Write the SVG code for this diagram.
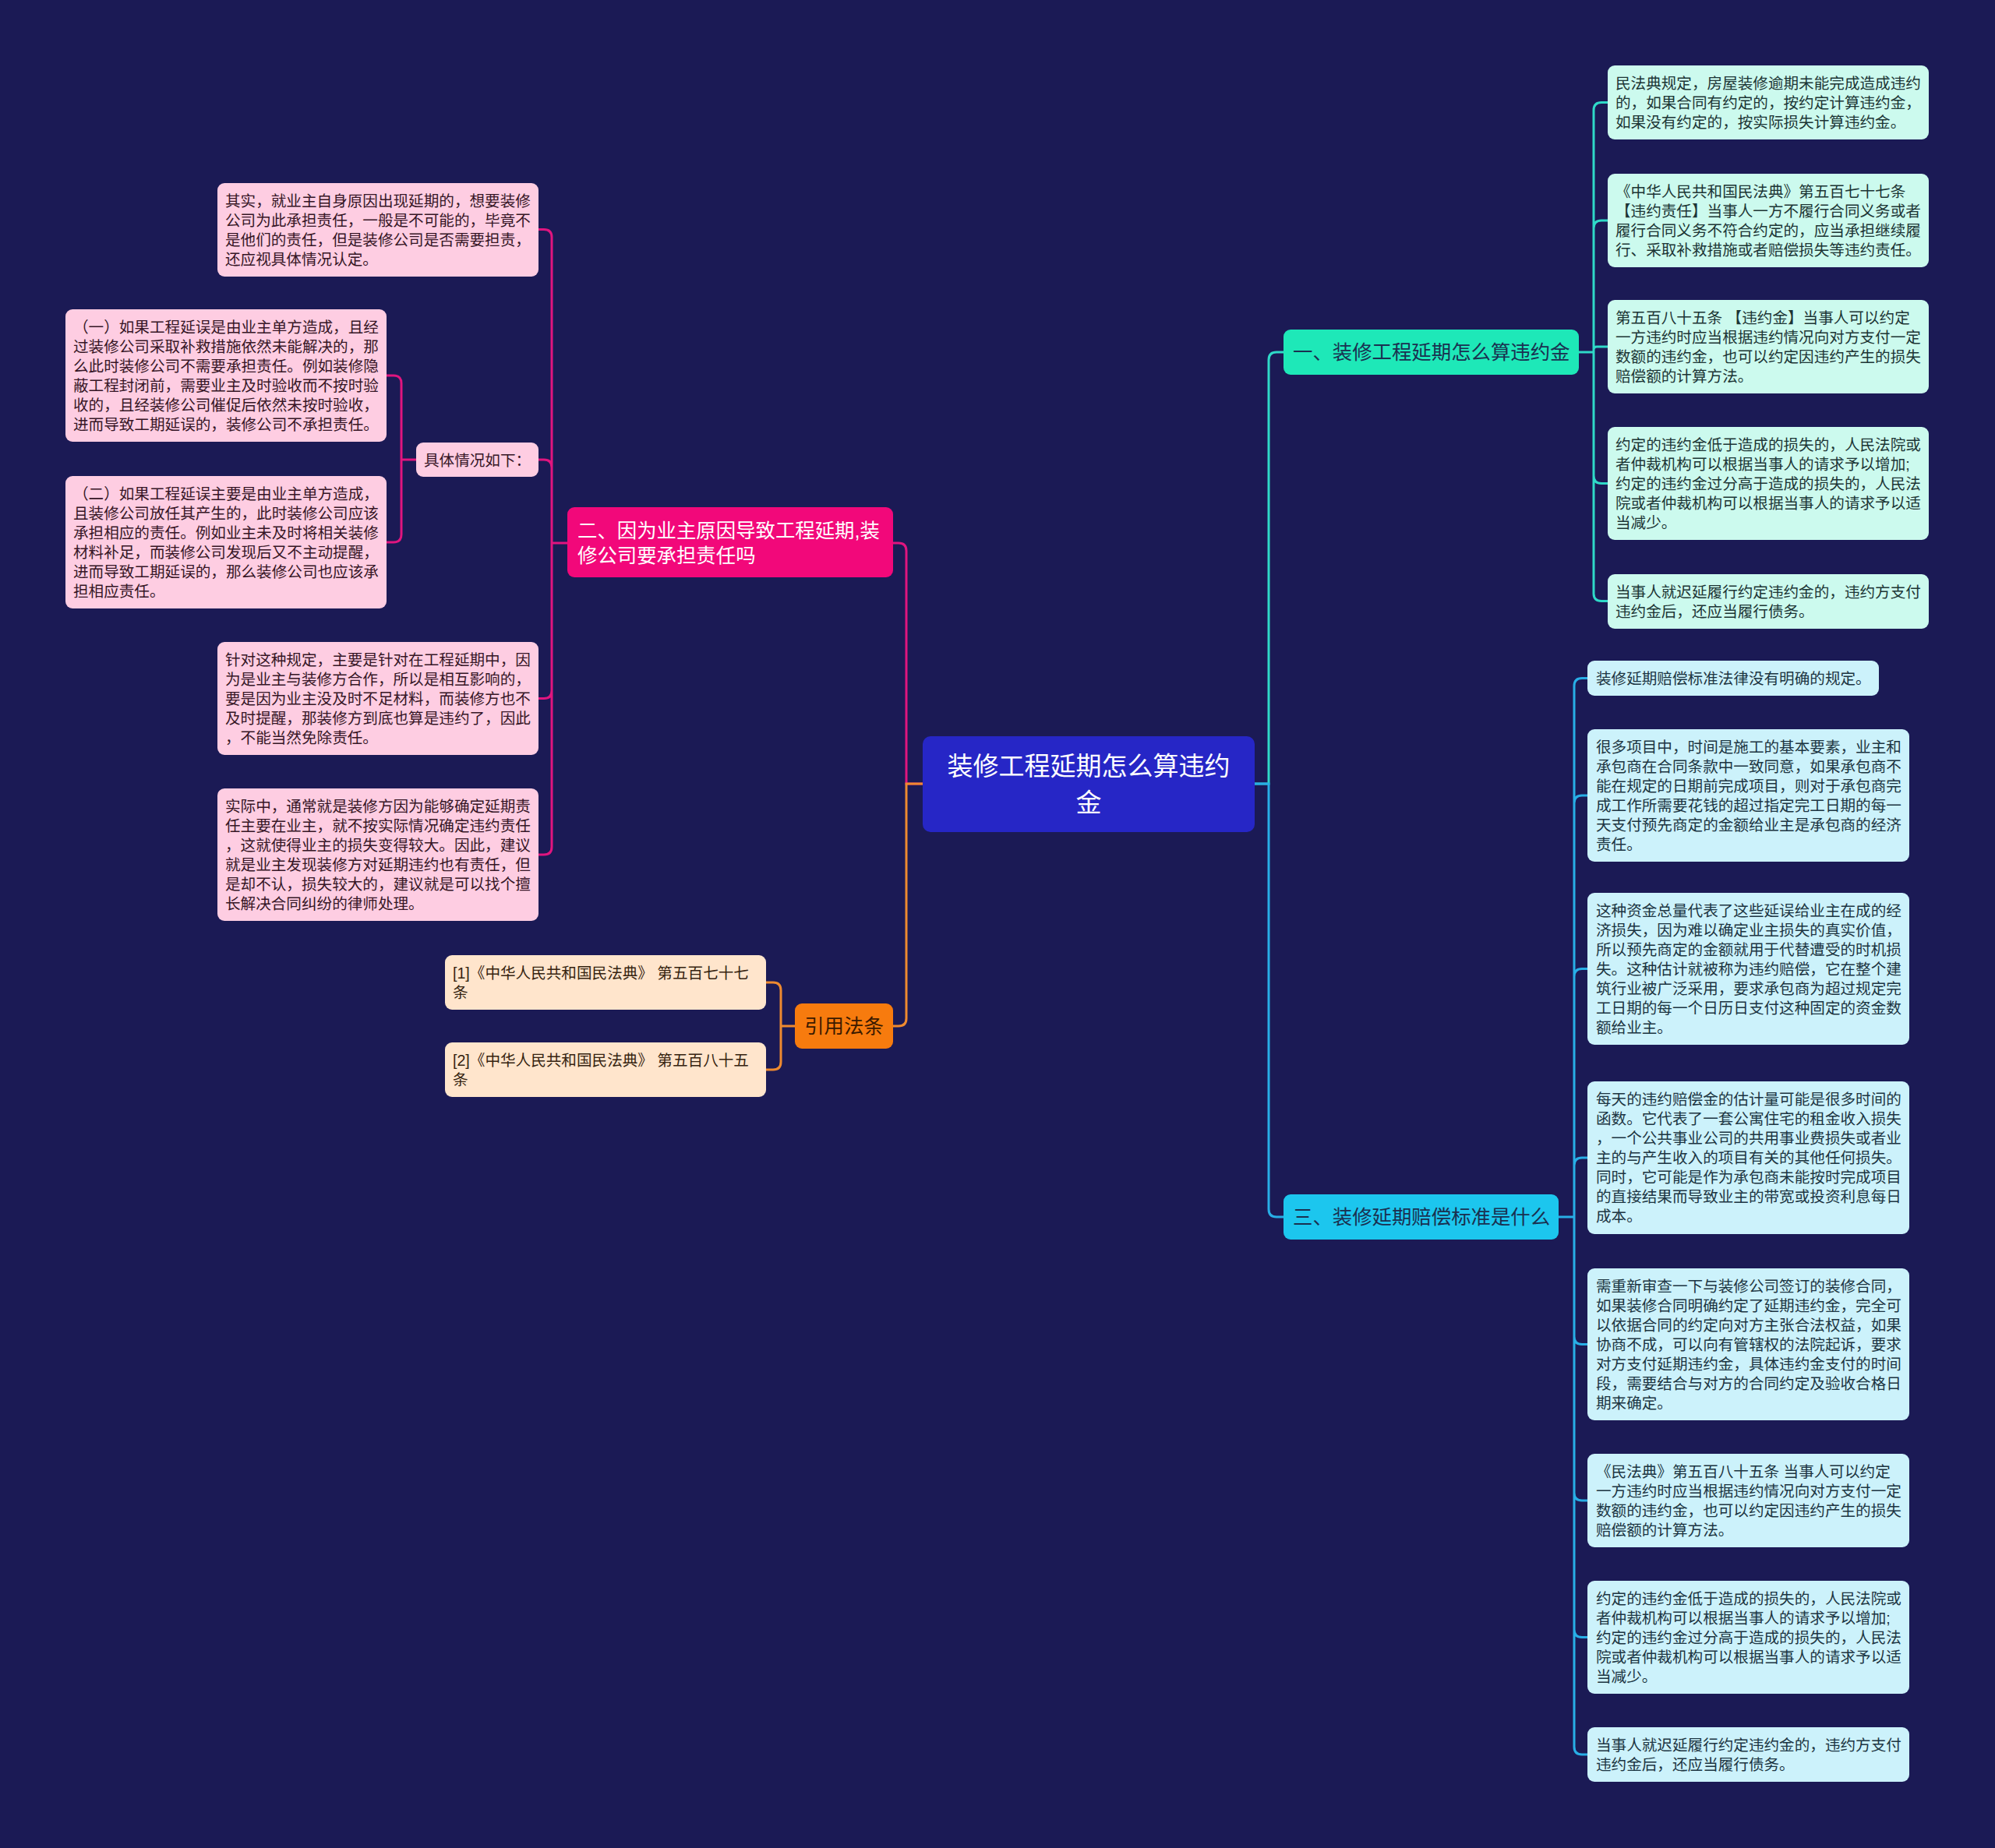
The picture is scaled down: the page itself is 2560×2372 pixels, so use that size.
<svg xmlns="http://www.w3.org/2000/svg" width="2560" height="2372" viewBox="0 0 2560 2372">
<style>
text{font-family:'Liberation Sans','Noto Sans CJK SC',sans-serif}
.lf{font-size:19.6px}
.br{font-size:25.4px}
.c{fill:none;stroke-width:3;stroke-linecap:round}
.c1{stroke:#2fd9c8}.c3{stroke:#28aee6}.c2{stroke:#e0157f}.c4{stroke:#ee8a30}
.g1 rect{fill:#ccfaee}.g1 text{fill:#1c3535}
.g3 rect{fill:#ccf2fb}.g3 text{fill:#1c3542}
.g2 rect{fill:#fecde2}.g2 text{fill:#361626}
.g4 rect{fill:#ffe5cc}.g4 text{fill:#362410}
</style>
<rect width="2560" height="2372" fill="#1b1a55"/>
<g id="connectors">
<path class="c c2" d="M1184,1006 H1163 V707 Q1163,697 1153,697 H1146"/>
<path class="c c4" d="M1184,1006 H1163 V1307 Q1163,1317 1153,1317 H1146"/>
<path class="c c1" d="M1610,1006 H1628 V462 Q1628,452 1638,452 H1647"/>
<path class="c c3" d="M1610,1006 H1628 V1552 Q1628,1562 1638,1562 H1647"/>
<path class="c c1" d="M2026,452 H2045 M2045,452 V141.5 Q2045,131.5 2055,131.5 H2063 M2045,452 V293 Q2045,283 2055,283 H2063 M2045,452 V449 Q2045,445 2049,445 H2063 M2045,452 V610.5 Q2045,620.5 2055,620.5 H2063 M2045,452 V761.5 Q2045,771.5 2055,771.5 H2063"/>
<path class="c c3" d="M2000,1562 H2020 M2020,1562 V880.5 Q2020,870.5 2030,870.5 H2037 M2020,1562 V1031 Q2020,1021 2030,1021 H2037 M2020,1562 V1253.5 Q2020,1243.5 2030,1243.5 H2037 M2020,1562 V1496 Q2020,1486 2030,1486 H2037 M2020,1562 V1715.5 Q2020,1725.5 2030,1725.5 H2037 M2020,1562 V1916 Q2020,1926 2030,1926 H2037 M2020,1562 V2091.5 Q2020,2101.5 2030,2101.5 H2037 M2020,1562 V2242 Q2020,2252 2030,2252 H2037"/>
<path class="c c2" d="M728,697 H708 M708,697 V304.5 Q708,294.5 698,294.5 H691 M708,697 V600 Q708,590 698,590 H691 M708,697 V886.5 Q708,896.5 698,896.5 H691 M708,697 V1087 Q708,1097 698,1097 H691"/>
<path class="c c2" d="M534,590 H515 M515,590 V492 Q515,482 505,482 H496 M515,590 V686 Q515,696 505,696 H496"/>
<path class="c c4" d="M1020,1317 H1002 M1002,1317 V1271 Q1002,1261 992,1261 H983 M1002,1317 V1363 Q1002,1373 992,1373 H983"/>
</g>
<g id="center">
<rect x="1184" y="945" width="426" height="123" rx="10" fill="#2626c6"/>
<text x="1397" y="995" font-size="33" fill="#ffffff" text-anchor="middle">装修工程延期怎么算违约<tspan x="1397" dy="47">金</tspan></text>
</g>
<g id="branch1">
<rect x="1647" y="423" width="379" height="58" rx="9" fill="#1ee8b8"/>
<text class="br" x="1659" y="461" fill="#1a3050">一、装修工程延期怎么算违约金</text>
</g>
<g id="branch3">
<rect x="1647" y="1533" width="353" height="58" rx="9" fill="#1cc6ee"/>
<text class="br" x="1659" y="1571" fill="#1a3050">三、装修延期赔偿标准是什么</text>
</g>
<g id="branch2">
<rect x="728" y="651" width="418" height="90" rx="9" fill="#f2087a"/>
<text class="br" x="741" y="690" fill="#ffffff">二、因为业主原因导致工程延期,装<tspan x="741" dy="32">修公司要承担责任吗</tspan></text>
</g>
<g id="branch4">
<rect x="1020" y="1288" width="126" height="58" rx="9" fill="#f77b0e"/>
<text class="br" x="1083" y="1326" fill="#3a1a00" text-anchor="middle">引用法条</text>
</g>
<g id="b1-leaf1" class="g1">
<rect x="2063" y="84" width="412" height="95" rx="9"/>
<text class="lf" x="2073" y="114">民法典规定，房屋装修逾期未能完成造成违约<tspan x="2073" dy="25">的，如果合同有约定的，按约定计算违约金，</tspan><tspan x="2073" dy="25">如果没有约定的，按实际损失计算违约金。</tspan></text>
</g>
<g id="b1-leaf2" class="g1">
<rect x="2063" y="223" width="412" height="120" rx="9"/>
<text class="lf" x="2073" y="253">《中华人民共和国民法典》第五百七十七条<tspan x="2073" dy="25">【违约责任】当事人一方不履行合同义务或者</tspan><tspan x="2073" dy="25">履行合同义务不符合约定的，应当承担继续履</tspan><tspan x="2073" dy="25">行、采取补救措施或者赔偿损失等违约责任。</tspan></text>
</g>
<g id="b1-leaf3" class="g1">
<rect x="2063" y="385" width="412" height="120" rx="9"/>
<text class="lf" x="2073" y="415">第五百八十五条 【违约金】当事人可以约定<tspan x="2073" dy="25">一方违约时应当根据违约情况向对方支付一定</tspan><tspan x="2073" dy="25">数额的违约金，也可以约定因违约产生的损失</tspan><tspan x="2073" dy="25">赔偿额的计算方法。</tspan></text>
</g>
<g id="b1-leaf4" class="g1">
<rect x="2063" y="548" width="412" height="145" rx="9"/>
<text class="lf" x="2073" y="578">约定的违约金低于造成的损失的，人民法院或<tspan x="2073" dy="25">者仲裁机构可以根据当事人的请求予以增加;</tspan><tspan x="2073" dy="25">约定的违约金过分高于造成的损失的，人民法</tspan><tspan x="2073" dy="25">院或者仲裁机构可以根据当事人的请求予以适</tspan><tspan x="2073" dy="25">当减少。</tspan></text>
</g>
<g id="b1-leaf5" class="g1">
<rect x="2063" y="737" width="412" height="70" rx="9"/>
<text class="lf" x="2073" y="767">当事人就迟延履行约定违约金的，违约方支付<tspan x="2073" dy="25">违约金后，还应当履行债务。</tspan></text>
</g>
<g id="b3-leaf1" class="g3">
<rect x="2037" y="848" width="374" height="45" rx="9"/>
<text class="lf" x="2048" y="878">装修延期赔偿标准法律没有明确的规定。</text>
</g>
<g id="b3-leaf2" class="g3">
<rect x="2037" y="936" width="413" height="170" rx="9"/>
<text class="lf" x="2048" y="966">很多项目中，时间是施工的基本要素，业主和<tspan x="2048" dy="25">承包商在合同条款中一致同意，如果承包商不</tspan><tspan x="2048" dy="25">能在规定的日期前完成项目，则对于承包商完</tspan><tspan x="2048" dy="25">成工作所需要花钱的超过指定完工日期的每一</tspan><tspan x="2048" dy="25">天支付预先商定的金额给业主是承包商的经济</tspan><tspan x="2048" dy="25">责任。</tspan></text>
</g>
<g id="b3-leaf3" class="g3">
<rect x="2037" y="1146" width="413" height="195" rx="9"/>
<text class="lf" x="2048" y="1176">这种资金总量代表了这些延误给业主在成的经<tspan x="2048" dy="25">济损失，因为难以确定业主损失的真实价值，</tspan><tspan x="2048" dy="25">所以预先商定的金额就用于代替遭受的时机损</tspan><tspan x="2048" dy="25">失。这种估计就被称为违约赔偿，它在整个建</tspan><tspan x="2048" dy="25">筑行业被广泛采用，要求承包商为超过规定完</tspan><tspan x="2048" dy="25">工日期的每一个日历日支付这种固定的资金数</tspan><tspan x="2048" dy="25">额给业主。</tspan></text>
</g>
<g id="b3-leaf4" class="g3">
<rect x="2037" y="1388" width="413" height="196" rx="9"/>
<text class="lf" x="2048" y="1418">每天的违约赔偿金的估计量可能是很多时间的<tspan x="2048" dy="25">函数。它代表了一套公寓住宅的租金收入损失</tspan><tspan x="2048" dy="25">，一个公共事业公司的共用事业费损失或者业</tspan><tspan x="2048" dy="25">主的与产生收入的项目有关的其他任何损失。</tspan><tspan x="2048" dy="25">同时，它可能是作为承包商未能按时完成项目</tspan><tspan x="2048" dy="25">的直接结果而导致业主的带宽或投资利息每日</tspan><tspan x="2048" dy="25">成本。</tspan></text>
</g>
<g id="b3-leaf5" class="g3">
<rect x="2037" y="1628" width="413" height="195" rx="9"/>
<text class="lf" x="2048" y="1658">需重新审查一下与装修公司签订的装修合同，<tspan x="2048" dy="25">如果装修合同明确约定了延期违约金，完全可</tspan><tspan x="2048" dy="25">以依据合同的约定向对方主张合法权益，如果</tspan><tspan x="2048" dy="25">协商不成，可以向有管辖权的法院起诉，要求</tspan><tspan x="2048" dy="25">对方支付延期违约金，具体违约金支付的时间</tspan><tspan x="2048" dy="25">段，需要结合与对方的合同约定及验收合格日</tspan><tspan x="2048" dy="25">期来确定。</tspan></text>
</g>
<g id="b3-leaf6" class="g3">
<rect x="2037" y="1866" width="413" height="120" rx="9"/>
<text class="lf" x="2048" y="1896">《民法典》第五百八十五条 当事人可以约定<tspan x="2048" dy="25">一方违约时应当根据违约情况向对方支付一定</tspan><tspan x="2048" dy="25">数额的违约金，也可以约定因违约产生的损失</tspan><tspan x="2048" dy="25">赔偿额的计算方法。</tspan></text>
</g>
<g id="b3-leaf7" class="g3">
<rect x="2037" y="2029" width="413" height="145" rx="9"/>
<text class="lf" x="2048" y="2059">约定的违约金低于造成的损失的，人民法院或<tspan x="2048" dy="25">者仲裁机构可以根据当事人的请求予以增加;</tspan><tspan x="2048" dy="25">约定的违约金过分高于造成的损失的，人民法</tspan><tspan x="2048" dy="25">院或者仲裁机构可以根据当事人的请求予以适</tspan><tspan x="2048" dy="25">当减少。</tspan></text>
</g>
<g id="b3-leaf8" class="g3">
<rect x="2037" y="2217" width="413" height="70" rx="9"/>
<text class="lf" x="2048" y="2247">当事人就迟延履行约定违约金的，违约方支付<tspan x="2048" dy="25">违约金后，还应当履行债务。</tspan></text>
</g>
<g id="b2-leaf1" class="g2">
<rect x="279" y="235" width="412" height="120" rx="9"/>
<text class="lf" x="289" y="265">其实，就业主自身原因出现延期的，想要装修<tspan x="289" dy="25">公司为此承担责任，一般是不可能的，毕竟不</tspan><tspan x="289" dy="25">是他们的责任，但是装修公司是否需要担责，</tspan><tspan x="289" dy="25">还应视具体情况认定。</tspan></text>
</g>
<g id="b2-leaf2" class="g2">
<rect x="534" y="568" width="157" height="44" rx="9"/>
<text class="lf" x="544" y="598">具体情况如下：</text>
</g>
<g id="b2-leaf2-1" class="g2">
<rect x="84" y="397" width="412" height="170" rx="9"/>
<text class="lf" x="94" y="427">（一）如果工程延误是由业主单方造成，且经<tspan x="94" dy="25">过装修公司采取补救措施依然未能解决的，那</tspan><tspan x="94" dy="25">么此时装修公司不需要承担责任。例如装修隐</tspan><tspan x="94" dy="25">蔽工程封闭前，需要业主及时验收而不按时验</tspan><tspan x="94" dy="25">收的，且经装修公司催促后依然未按时验收，</tspan><tspan x="94" dy="25">进而导致工期延误的，装修公司不承担责任。</tspan></text>
</g>
<g id="b2-leaf2-2" class="g2">
<rect x="84" y="611" width="412" height="170" rx="9"/>
<text class="lf" x="94" y="641">（二）如果工程延误主要是由业主单方造成，<tspan x="94" dy="25">且装修公司放任其产生的，此时装修公司应该</tspan><tspan x="94" dy="25">承担相应的责任。例如业主未及时将相关装修</tspan><tspan x="94" dy="25">材料补足，而装修公司发现后又不主动提醒，</tspan><tspan x="94" dy="25">进而导致工期延误的，那么装修公司也应该承</tspan><tspan x="94" dy="25">担相应责任。</tspan></text>
</g>
<g id="b2-leaf3" class="g2">
<rect x="279" y="824" width="412" height="145" rx="9"/>
<text class="lf" x="289" y="854">针对这种规定，主要是针对在工程延期中，因<tspan x="289" dy="25">为是业主与装修方合作，所以是相互影响的，</tspan><tspan x="289" dy="25">要是因为业主没及时不足材料，而装修方也不</tspan><tspan x="289" dy="25">及时提醒，那装修方到底也算是违约了，因此</tspan><tspan x="289" dy="25">，不能当然免除责任。</tspan></text>
</g>
<g id="b2-leaf4" class="g2">
<rect x="279" y="1012" width="412" height="170" rx="9"/>
<text class="lf" x="289" y="1042">实际中，通常就是装修方因为能够确定延期责<tspan x="289" dy="25">任主要在业主，就不按实际情况确定违约责任</tspan><tspan x="289" dy="25">，这就使得业主的损失变得较大。因此，建议</tspan><tspan x="289" dy="25">就是业主发现装修方对延期违约也有责任，但</tspan><tspan x="289" dy="25">是却不认，损失较大的，建议就是可以找个擅</tspan><tspan x="289" dy="25">长解决合同纠纷的律师处理。</tspan></text>
</g>
<g id="b4-leaf1" class="g4">
<rect x="571" y="1226" width="412" height="70" rx="9"/>
<text class="lf" x="581" y="1256">[1]《中华人民共和国民法典》 第五百七十七<tspan x="581" dy="25">条</tspan></text>
</g>
<g id="b4-leaf2" class="g4">
<rect x="571" y="1338" width="412" height="70" rx="9"/>
<text class="lf" x="581" y="1368">[2]《中华人民共和国民法典》 第五百八十五<tspan x="581" dy="25">条</tspan></text>
</g>
</svg>
